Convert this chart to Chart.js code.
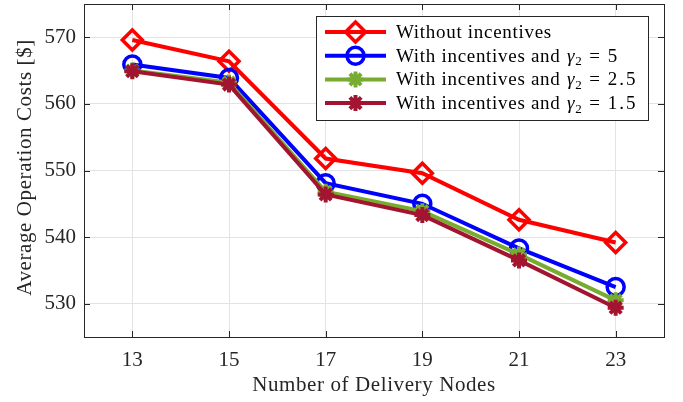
<!DOCTYPE html>
<html>
<head>
<meta charset="utf-8">
<script src="https://cdn.jsdelivr.net/npm/chart.js@4/dist/chart.umd.min.js"></script>
<style>
  html, body { margin: 0; padding: 0; background: #fff; }
  #wrap { width: 683px; height: 402px; }
</style>
</head>
<body>
<div id="wrap"><canvas id="chart" width="683" height="402"></canvas></div>
<script>
// data
const nodes = [13, 15, 17, 19, 21, 23];
const withoutIncentives = [569.6, 566.4, 551.8, 549.6, 542.6, 539.2];
const gamma5 = [565.9, 563.9, 548.1, 545.0, 538.3, 532.5];
const gamma25 = [565.0, 563.2, 546.8, 543.9, 537.4, 530.5];
const gamma15 = [564.9, 562.9, 546.4, 543.3, 536.5, 529.4];
const seriesLabels = ['Without incentives', 'With incentives and γ2 = 5', 'With incentives and γ2 = 2.5', 'With incentives and γ2 = 1.5'];
const xTicks = [13, 15, 17, 19, 21, 23];
const yTicks = [530, 540, 550, 560, 570];
const xTitle = 'Number of Delivery Nodes';
const yTitle = 'Average Operation Costs [$]';

const FONT = '"Liberation Serif", "DejaVu Serif", serif';
const AXIS = '#262626';

const toPoints = (ys) => nodes.map((x, i) => ({ x, y: ys[i] }));

const styles = [
  { color: '#ff0000', pointStyle: 'rectRot', radius: 10, border: 3.5, order: 3 },
  { color: '#0000ff', pointStyle: 'circle', radius: 8.5, border: 3.5, order: 2 },
  { color: '#77ac30', pointStyle: 'star', radius: 8, border: 4, order: 1 },
  { color: '#a2142f', pointStyle: 'star', radius: 8, border: 4, order: 0 },
];

const datasets = [withoutIncentives, gamma5, gamma25, gamma15].map((ys, i) => ({
  label: seriesLabels[i],
  data: toPoints(ys),
  borderColor: styles[i].color,
  backgroundColor: 'rgba(0,0,0,0)',
  borderWidth: 4,
  pointStyle: styles[i].pointStyle,
  pointRadius: styles[i].radius,
  pointHoverRadius: styles[i].radius,
  pointBorderWidth: styles[i].border,
  pointBorderColor: styles[i].color,
  pointBackgroundColor: 'rgba(0,0,0,0)',
  order: styles[i].order,
  tension: 0,
}));

// box, inward ticks, axis titles and legend
const matlabBox = {
  id: 'matlabBox',
  afterDraw(chart) {
    const { ctx, chartArea: a, scales } = chart;
    ctx.save();
    ctx.strokeStyle = AXIS;
    ctx.lineWidth = 1;
    ctx.beginPath();
    xTicks.forEach((v) => {
      const px = Math.round(scales.x.getPixelForValue(v)) + 0.5;
      ctx.moveTo(px, a.bottom); ctx.lineTo(px, a.bottom - 6);
      ctx.moveTo(px, a.top); ctx.lineTo(px, a.top + 6);
    });
    yTicks.forEach((v) => {
      const py = Math.round(scales.y.getPixelForValue(v)) + 0.5;
      ctx.moveTo(a.left, py); ctx.lineTo(a.left + 6, py);
      ctx.moveTo(a.right, py); ctx.lineTo(a.right - 6, py);
    });
    ctx.stroke();
    ctx.strokeRect(Math.round(a.left) + 0.5, Math.round(a.top) + 0.5, Math.round(a.right - a.left), Math.round(a.bottom - a.top));

    // axis titles
    ctx.fillStyle = AXIS;
    ctx.textAlign = 'center';
    ctx.textBaseline = 'alphabetic';
    ctx.font = '21px ' + FONT;
    ctx.letterSpacing = '0.6px';
    ctx.fillText(xTitle, (a.left + a.right) / 2, 391);
    ctx.save();
    ctx.translate(31, (a.top + a.bottom) / 2 - 3);
    ctx.rotate(-Math.PI / 2);
    ctx.fillText(yTitle, 0, 0);
    ctx.restore();

    // legend
    const bx = 316.5, by = 16.5, bw = 332, bh = 104;
    ctx.fillStyle = '#fff';
    ctx.fillRect(bx, by, bw, bh);
    ctx.strokeStyle = AXIS;
    ctx.lineWidth = 1;
    ctx.strokeRect(bx, by, bw, bh);
    ctx.letterSpacing = '0.7px';
    chart.data.datasets.forEach((ds, i) => {
      const y = 32 + i * 23.7;
      ctx.strokeStyle = ds.borderColor;
      ctx.lineWidth = 4;
      ctx.beginPath();
      ctx.moveTo(325, y); ctx.lineTo(386, y);
      ctx.stroke();
      ctx.lineWidth = ds.pointBorderWidth;
      ctx.fillStyle = 'rgba(0,0,0,0)';
      Chart.helpers.drawPoint(ctx, { pointStyle: ds.pointStyle, radius: ds.pointRadius, rotation: 0, borderWidth: ds.pointBorderWidth }, 355.5, y);

      ctx.fillStyle = '#000';
      ctx.textBaseline = 'middle';
      ctx.textAlign = 'left';
      const parts = ds.label.split('γ2');
      let x = 396;
      ctx.font = '19px ' + FONT;
      ctx.fillText(parts[0], x, y + 1);
      if (parts.length > 1) {
        x += ctx.measureText(parts[0]).width + 1;
        ctx.font = 'italic 19px ' + FONT;
        ctx.fillText('γ', x, y + 1);
        x += ctx.measureText('γ').width;
        ctx.font = '13px ' + FONT;
        ctx.fillText('2', x, y + 6);
        x += ctx.measureText('2').width + 7;
        ctx.font = '19px ' + FONT;
        ctx.fillText('=', x, y + 1);
        x += ctx.measureText('=').width + 7;
        ctx.letterSpacing = '2px';
        ctx.fillText(parts[1].replace('=', '').trim(), x, y + 1);
        ctx.letterSpacing = '0.7px';
      }
    });
    ctx.restore();
  },
};

new Chart(document.getElementById('chart'), {
  type: 'line',
  data: { datasets },
  options: {
    responsive: false,
    animation: false,
    layout: { autoPadding: false, padding: { top: 4, right: 19, left: 0, bottom: 0 } },
    plugins: { legend: { display: false }, tooltip: { enabled: false } },
    scales: {
      x: {
        type: 'linear',
        min: 12,
        max: 24,
        afterBuildTicks: (s) => { s.ticks = xTicks.map((v) => ({ value: v })); },
        afterFit: (s) => { s.height = 65; s.paddingLeft = 0; s.paddingRight = 0; },
        ticks: { color: AXIS, font: { family: FONT, size: 21 }, padding: 11, maxRotation: 0 },
        grid: { color: '#e3e3e3', drawTicks: false },
        border: { display: false },
      },
      y: {
        min: 525,
        max: 575,
        afterBuildTicks: (s) => { s.ticks = yTicks.map((v) => ({ value: v })); },
        afterFit: (s) => { s.width = 84; s.paddingTop = 0; s.paddingBottom = 0; },
        ticks: { color: AXIS, font: { family: FONT, size: 21 }, padding: 8 },
        grid: { color: '#e3e3e3', drawTicks: false },
        border: { display: false },
      },
    },
  },
  plugins: [matlabBox],
});
</script>
</body>
</html>
